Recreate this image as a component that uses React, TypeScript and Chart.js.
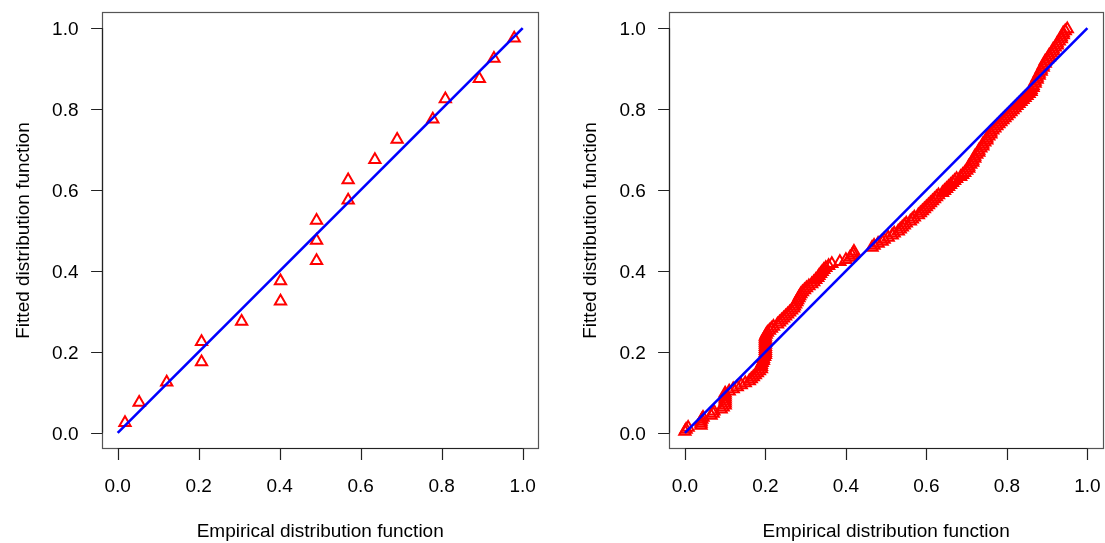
import React, { useEffect, useRef } from "react";
import { Chart, registerables } from "chart.js";

Chart.register(...registerables);

// ---------- data ----------
const tickValues = [0, 0.2, 0.4, 0.6, 0.8, 1.0];
const tickLabels = ["0.0", "0.2", "0.4", "0.6", "0.8", "1.0"];
const xTitle = "Empirical distribution function";
const yTitle = "Fitted distribution function";

const leftX = [0.018, 0.053, 0.121, 0.207, 0.207, 0.306, 0.402, 0.402, 0.491, 0.491, 0.491, 0.569, 0.569, 0.635, 0.69, 0.778, 0.809, 0.893, 0.929, 0.979];
const leftY = [0.025, 0.075, 0.125, 0.175, 0.225, 0.275, 0.325, 0.375, 0.425, 0.475, 0.525, 0.575, 0.625, 0.675, 0.725, 0.775, 0.825, 0.875, 0.925, 0.975];

const rightPoints: [number, number][] = [
  [0.0, 0.003], [0.003, 0.008], [0.008, 0.013], [0.04, 0.018], [0.04, 0.023], [0.04, 0.028], [0.042, 0.033], [0.045, 0.038],
  [0.065, 0.043], [0.07, 0.048], [0.072, 0.053], [0.09, 0.058], [0.095, 0.063], [0.1, 0.068], [0.1, 0.073], [0.1, 0.078],
  [0.1, 0.083], [0.1, 0.088], [0.1, 0.093], [0.1, 0.098], [0.11, 0.103], [0.12, 0.108], [0.13, 0.113], [0.14, 0.118],
  [0.15, 0.123], [0.16, 0.128], [0.165, 0.133], [0.17, 0.138], [0.175, 0.143], [0.18, 0.148], [0.185, 0.153], [0.19, 0.158],
  [0.19, 0.163], [0.19, 0.168], [0.192, 0.173], [0.195, 0.178], [0.195, 0.183], [0.198, 0.188], [0.2, 0.193], [0.2, 0.198],
  [0.2, 0.203], [0.2, 0.208], [0.2, 0.213], [0.2, 0.218], [0.2, 0.223], [0.2, 0.228], [0.2, 0.233], [0.2, 0.238],
  [0.202, 0.243], [0.205, 0.248], [0.21, 0.253], [0.215, 0.258], [0.22, 0.263], [0.23, 0.268], [0.235, 0.273], [0.24, 0.278],
  [0.245, 0.283], [0.25, 0.288], [0.255, 0.293], [0.26, 0.298], [0.265, 0.303], [0.27, 0.308], [0.272, 0.313], [0.275, 0.318],
  [0.278, 0.323], [0.28, 0.328], [0.283, 0.333], [0.285, 0.338], [0.288, 0.343], [0.292, 0.348], [0.297, 0.353], [0.302, 0.358],
  [0.308, 0.363], [0.315, 0.368], [0.32, 0.373], [0.325, 0.378], [0.33, 0.383], [0.333, 0.388], [0.337, 0.393], [0.341, 0.398],
  [0.345, 0.403], [0.35, 0.408], [0.357, 0.413], [0.365, 0.418], [0.385, 0.423], [0.4, 0.428], [0.41, 0.433], [0.415, 0.438],
  [0.418, 0.443], [0.42, 0.448],
  [0.465, 0.458], [0.47, 0.463], [0.48, 0.468], [0.49, 0.473], [0.495, 0.478], [0.505, 0.483], [0.515, 0.488], [0.52, 0.493],
  [0.53, 0.498], [0.535, 0.503], [0.54, 0.508], [0.545, 0.513], [0.55, 0.518], [0.56, 0.523], [0.565, 0.528], [0.57, 0.533],
  [0.58, 0.538], [0.585, 0.543], [0.59, 0.548], [0.595, 0.553], [0.6, 0.558], [0.605, 0.563], [0.61, 0.568], [0.615, 0.573],
  [0.62, 0.578], [0.625, 0.583], [0.63, 0.588], [0.64, 0.593], [0.645, 0.598], [0.65, 0.603], [0.655, 0.608], [0.66, 0.613],
  [0.665, 0.618], [0.67, 0.623], [0.675, 0.628], [0.685, 0.633], [0.69, 0.638], [0.695, 0.643], [0.7, 0.648], [0.705, 0.653],
  [0.705, 0.658], [0.71, 0.663], [0.715, 0.668], [0.715, 0.673], [0.72, 0.678], [0.72, 0.683], [0.725, 0.688], [0.73, 0.693],
  [0.73, 0.698], [0.735, 0.703], [0.74, 0.708], [0.74, 0.713], [0.745, 0.718], [0.75, 0.723], [0.75, 0.728], [0.755, 0.733],
  [0.76, 0.738], [0.76, 0.743], [0.765, 0.748], [0.77, 0.753], [0.775, 0.758], [0.78, 0.763], [0.785, 0.768], [0.79, 0.773],
  [0.795, 0.778], [0.8, 0.783], [0.805, 0.788], [0.81, 0.793], [0.815, 0.798], [0.82, 0.803], [0.825, 0.808], [0.83, 0.813],
  [0.835, 0.818], [0.84, 0.823], [0.845, 0.828], [0.85, 0.833], [0.855, 0.838], [0.86, 0.843], [0.86, 0.848], [0.865, 0.853],
  [0.865, 0.858], [0.87, 0.863], [0.87, 0.868], [0.875, 0.873], [0.875, 0.878], [0.88, 0.883], [0.88, 0.888], [0.885, 0.893],
  [0.885, 0.898], [0.89, 0.903], [0.89, 0.908], [0.895, 0.913], [0.895, 0.918], [0.9, 0.923], [0.905, 0.928], [0.905, 0.933],
  [0.91, 0.938], [0.915, 0.943], [0.915, 0.948], [0.92, 0.953], [0.925, 0.958], [0.925, 0.963], [0.93, 0.968], [0.935, 0.973],
  [0.935, 0.978], [0.94, 0.983], [0.94, 0.988], [0.945, 0.993], [0.95, 0.998],
];

const refLineX = [0, 1];
const refLineY = [0, 1];

// ---------- R-style axes plugin ----------
const FONT = '19px "Liberation Sans", Arial, Helvetica, sans-serif';

const rAxesPlugin = {
  id: "rAxes",
  afterDraw(chart: any) {
    const { ctx, chartArea: a, scales } = chart;
    const xs = scales.x;
    const ys = scales.y;
    const tickLen = 11.4;
    ctx.save();

    // box
    const L = Math.round(a.left) + 0.5;
    const R = Math.round(a.right) - 0.5;
    const T = Math.round(a.top) + 0.5;
    const B = Math.round(a.bottom) - 0.5;
    ctx.strokeStyle = "#555555";
    ctx.lineWidth = 1.2;
    ctx.strokeRect(L, T, R - L, B - T);

    // x axis
    ctx.strokeStyle = "#222222";
    ctx.lineWidth = 1.2;
    const x0 = xs.getPixelForValue(tickValues[0]);
    const x1 = xs.getPixelForValue(tickValues[tickValues.length - 1]);
    ctx.beginPath();
    ctx.moveTo(x0, B);
    ctx.lineTo(x1, B);
    tickValues.forEach((v) => {
      const px = Math.round(xs.getPixelForValue(v)) + 0.5;
      ctx.moveTo(px, B);
      ctx.lineTo(px, B + tickLen);
    });
    // y axis
    const y0 = ys.getPixelForValue(tickValues[0]);
    const y1 = ys.getPixelForValue(tickValues[tickValues.length - 1]);
    ctx.moveTo(L, y0);
    ctx.lineTo(L, y1);
    tickValues.forEach((v) => {
      const py = Math.round(ys.getPixelForValue(v)) + 0.5;
      ctx.moveTo(L, py);
      ctx.lineTo(L - tickLen, py);
    });
    ctx.stroke();

    // labels
    ctx.fillStyle = "#000000";
    ctx.font = FONT;
    ctx.textBaseline = "alphabetic";
    ctx.textAlign = "center";
    tickValues.forEach((v, i) => {
      ctx.fillText(tickLabels[i], xs.getPixelForValue(v), a.bottom + 43);
    });
    ctx.textAlign = "right";
    tickValues.forEach((v, i) => {
      ctx.fillText(tickLabels[i], a.left - 23, ys.getPixelForValue(v) + 6.8);
    });

    // titles
    ctx.textAlign = "center";
    ctx.fillText(xTitle, (a.left + a.right) / 2, a.bottom + 88);
    ctx.save();
    ctx.translate(a.left - 73, (a.top + a.bottom) / 2);
    ctx.rotate(-Math.PI / 2);
    ctx.fillText(yTitle, 0, 0);
    ctx.restore();

    ctx.restore();
  },
};

function makeChart(canvas: HTMLCanvasElement, pts: { x: number; y: number }[], padding: any) {
  return new Chart(canvas, {
    type: "scatter",
    data: {
      datasets: [
        {
          type: "line",
          data: refLineX.map((x, i) => ({ x, y: refLineY[i] })),
          borderColor: "#0000ff",
          borderWidth: 2.6,
          pointRadius: 0,
          showLine: true,
          fill: false,
          order: 0,
        } as any,
        {
          data: pts,
          pointStyle: "triangle",
          pointRadius: 6.5,
          pointHoverRadius: 6.5,
          borderColor: "#ff0000",
          backgroundColor: "rgba(0,0,0,0)",
          borderWidth: 2,
          order: 1,
        },
      ],
    },
    options: {
      responsive: false,
      animation: false,
      devicePixelRatio: 1,
      events: [],
      layout: { padding },
      scales: {
        x: { type: "linear", min: -0.04, max: 1.04, display: false },
        y: { type: "linear", min: -0.04, max: 1.04, display: false },
      },
      plugins: {
        legend: { display: false },
        tooltip: { enabled: false },
      },
    } as any,
    plugins: [rAxesPlugin],
  });
}

export default function App() {
  const leftRef = useRef<HTMLCanvasElement>(null);
  const rightRef = useRef<HTMLCanvasElement>(null);

  useEffect(() => {
    const leftPts = leftX.map((x, i) => ({ x, y: leftY[i] }));
    const rightPts = rightPoints.map(([x, y]) => ({ x, y }));
    const c1 = makeChart(leftRef.current!, leftPts, { left: 101.5, right: 13.1, top: 12, bottom: 94 });
    const c2 = makeChart(rightRef.current!, rightPts, { left: 116.8, right: 5.8, top: 12, bottom: 94 });
    return () => {
      c1.destroy();
      c2.destroy();
    };
  }, []);

  return (
    <div
      style={{
        position: "absolute",
        left: 0,
        top: 0,
        width: 1105,
        height: 543,
        overflow: "hidden",
        background: "#ffffff",
      }}
    >
      <canvas
        ref={leftRef}
        width={552}
        height={543}
        style={{ position: "absolute", left: 0, top: 0, width: 552, height: 543 }}
      />
      <canvas
        ref={rightRef}
        width={560}
        height={543}
        style={{ position: "absolute", left: 552, top: 0, width: 560, height: 543 }}
      />
    </div>
  );
}
